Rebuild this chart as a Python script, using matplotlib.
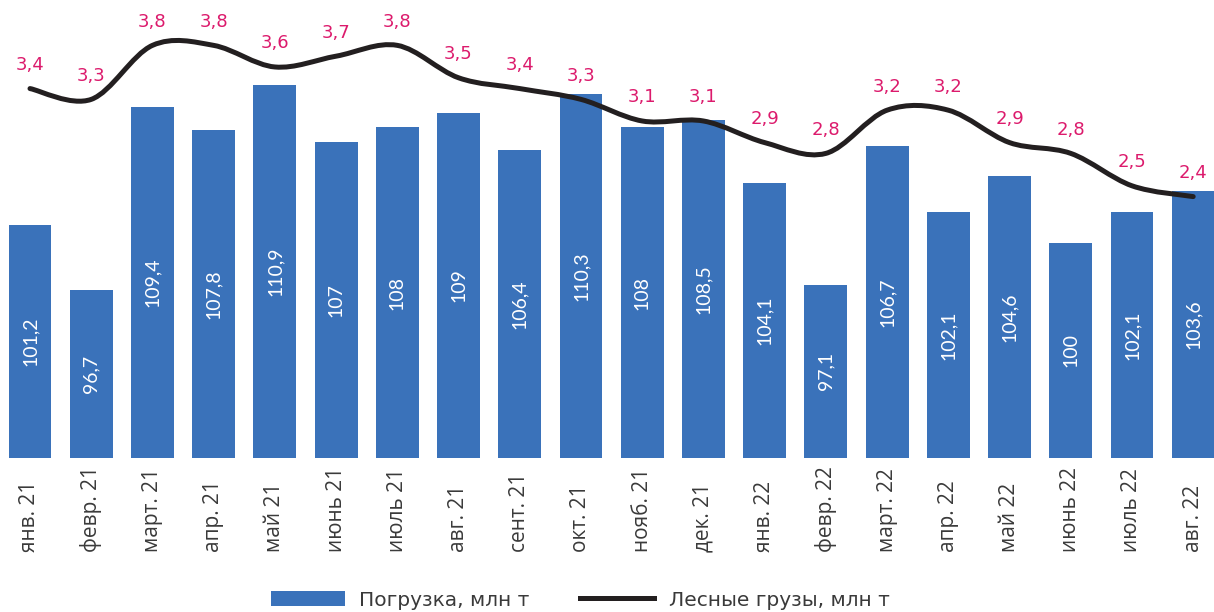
import matplotlib
matplotlib.use("Agg")
import matplotlib.pyplot as plt
import numpy as np
from matplotlib.path import Path
from matplotlib.patches import PathPatch
from matplotlib.lines import Line2D
from matplotlib.patches import Patch

categories = ["янв. 21", "февр. 21", "март. 21", "апр. 21", "май 21", "июнь 21", "июль 21",
              "авг. 21", "сент. 21", "окт. 21", "нояб. 21", "дек. 21", "янв. 22", "февр. 22",
              "март. 22", "апр. 22", "май 22", "июнь 22", "июль 22", "авг. 22"]
loading = [101.2, 96.7, 109.4, 107.8, 110.9, 107, 108, 109, 106.4, 110.3,
           108, 108.5, 104.1, 97.1, 106.7, 102.1, 104.6, 100, 102.1, 103.6]
timber = [3.4, 3.3, 3.8, 3.8, 3.6, 3.7, 3.8, 3.5, 3.4, 3.3,
          3.1, 3.1, 2.9, 2.8, 3.2, 3.2, 2.9, 2.8, 2.5, 2.4]

BAR_C = "#3A72BA"
LINE_C = "#231F20"
LAB_C = "#DC1A6C"
TXT_C = "#3A3A3A"

def fmt(v):
    s = ("%.1f" % v)
    if s.endswith(".0"):
        s = s[:-2]
    return s.replace(".", ",")

fig = plt.figure(figsize=(12.14, 6.12), dpi=100)
ax = fig.add_axes([0, (612 - 458) / 612, 1, 458 / 612])
x = np.arange(len(categories))
ax.bar(x, loading, width=0.70, color=BAR_C, zorder=2)
ax.set_xlim(-0.49, 19.34)
ax.set_ylim(85.1, 116.8)
for xi, v in zip(x, loading):
    ax.text(xi, (85.1 + v) / 2, fmt(v), rotation=90, ha="center", va="center",
            color="white", fontsize=14, family="Lato", zorder=3)

ax.set_xticks(x)
ax.set_xticklabels(categories, rotation=90, fontsize=15, family="Open Sans", color=TXT_C,
                   va="bottom", ha="center")
ax.tick_params(axis="x", length=0, pad=68)
ax.set_yticks([])
for s in ax.spines.values():
    s.set_visible(False)

ax2 = ax.twinx()
ax2.set_ylim(-0.02, 4.22)
ax2.set_yticks([])
for s in ax2.spines.values():
    s.set_visible(False)

# smooth Bezier (Excel-style) through the points
pts = np.column_stack([x, timber]).astype(float)
n = len(pts)
verts = [pts[0]]
codes = [Path.MOVETO]
for i in range(n - 1):
    p0 = pts[i - 1] if i > 0 else pts[i]
    p1 = pts[i]
    p2 = pts[i + 1]
    p3 = pts[i + 2] if i + 2 < n else pts[i + 1]
    c1 = p1 + (p2 - p0) / 6.0
    c2 = p2 - (p3 - p1) / 6.0
    verts += [c1, c2, p2]
    codes += [Path.CURVE4] * 3
path = Path(verts, codes)
ax2.add_patch(PathPatch(path, facecolor="none", edgecolor=LINE_C, lw=3.6,
                        capstyle="round", zorder=4))
for xi, v in zip(x, timber):
    ax2.annotate(fmt(v), (xi, v), xytext=(0, 17), textcoords="offset points",
                 ha="center", va="center", color=LAB_C, fontsize=13, family="DejaVu Sans")

handles = [Patch(facecolor=BAR_C, edgecolor="none"),
           Line2D([0], [0], color=LINE_C, lw=3.6)]
leg = fig.legend(handles, ["Погрузка, млн т", "Лесные грузы, млн т"],
                 loc="center", bbox_to_anchor=(580 / 1214, 1 - 600 / 612), ncol=2,
                 frameon=False, handlelength=3.7, handleheight=0.7, handletextpad=0.7,
                 columnspacing=2.5, borderpad=0, borderaxespad=0,
                 prop={"family": "DejaVu Sans", "size": 14.5})
for t in leg.get_texts():
    t.set_color(TXT_C)

fig.savefig("out.png", dpi=100)
